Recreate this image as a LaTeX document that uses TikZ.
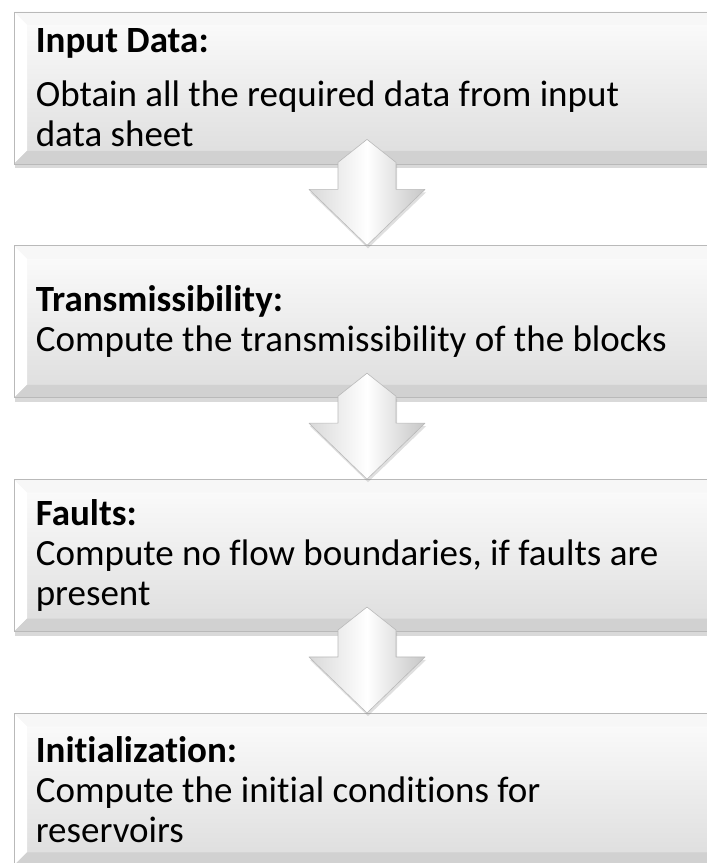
\documentclass[tikz,border=0pt]{standalone}
\usepackage{fontspec}
\setmainfont[Ligatures={NoCommon}]{Carlito}
\usetikzlibrary{positioning,shadows,calc}

\tikzset{
  stage/.style={rectangle, draw=gray!55, line width=0.8pt,
    minimum width=706pt, minimum height=152pt, inner sep=0pt,
    top color=gray!2, bottom color=gray!27,
    drop shadow={shadow xshift=1pt, shadow yshift=-4pt, opacity=0.3},
    path picture={
      \coordinate (pnw) at (path picture bounding box.north west);
      \coordinate (pne) at (path picture bounding box.north east);
      \coordinate (psw) at (path picture bounding box.south west);
      \coordinate (pse) at (path picture bounding box.south east);
      \fill[gray!6] (pnw) -- (pne) -- ($(pne)+(-13,-13)$) -- ($(pnw)+(13,-13)$) -- cycle;
      \fill[white] (pnw) -- ($(pnw)+(13,-13)$) -- ($(psw)+(13,13)$) -- (psw) -- cycle;
      \fill[gray!36] (psw) -- ($(psw)+(13,13)$) -- ($(pse)+(-13,13)$) -- (pse) -- cycle;
      \fill[gray!20] (pse) -- ($(pse)+(-13,13)$) -- ($(pne)+(-13,-13)$) -- (pne) -- cycle;
    }},
  stagetext/.style={anchor=west, align=left, inner sep=0pt,
    font=\fontsize{37}{40}\selectfont},
  flowarrow/.style={draw=gray!55, line width=0.6pt, line join=round,
    left color=gray!30, right color=gray!45, middle color=white,
    drop shadow={shadow xshift=1pt, shadow yshift=-3pt, opacity=0.25}}
}

\begin{document}
\begin{tikzpicture}[x=1pt, y=1pt]
  \useasboundingbox (0,0) rectangle (707,863);

  % the four stages
  \node[stage] (input) at (367,775) {};
  \node[stage, below=81pt of input] (trans) {};
  \node[stage, below=81pt of trans] (faults) {};
  \node[stage, below=81pt of faults] (init) {};

  % block arrows between the stages
  \draw[flowarrow] ($(input.south)+(0,25)$) -- ($(input.south)+(29,2)$)
    -- ($(input.south)+(29,-25)$) -- ($(input.south)+(58,-25)$) -- (trans.north)
    -- ($(input.south)+(-58,-25)$) -- ($(input.south)+(-29,-25)$)
    -- ($(input.south)+(-29,2)$) -- cycle;
  \draw[flowarrow] ($(trans.south)+(0,25)$) -- ($(trans.south)+(29,2)$)
    -- ($(trans.south)+(29,-25)$) -- ($(trans.south)+(58,-25)$) -- (faults.north)
    -- ($(trans.south)+(-58,-25)$) -- ($(trans.south)+(-29,-25)$)
    -- ($(trans.south)+(-29,2)$) -- cycle;
  \draw[flowarrow] ($(faults.south)+(0,25)$) -- ($(faults.south)+(29,2)$)
    -- ($(faults.south)+(29,-25)$) -- ($(faults.south)+(58,-25)$) -- (init.north)
    -- ($(faults.south)+(-58,-25)$) -- ($(faults.south)+(-29,-25)$)
    -- ($(faults.south)+(-29,2)$) -- cycle;

  % texts
  \node[stagetext] (inputtext) at ($(input.west)+(22,0)$)
    {\textbf{Input Data:}\\[14pt]Obtain all the required data from input\\data sheet};
  \node[stagetext] (transtext) at ($(trans.west)+(22,0)$)
    {\textbf{Transmissibility:}\\Compute the transmissibility of the blocks};
  \node[stagetext] (faultstext) at ($(faults.west)+(22,0)$)
    {\textbf{Faults:}\\Compute no flow boundaries, if faults are\\present};
  \node[stagetext] (inittext) at ($(init.west)+(22,0)$)
    {\textbf{Initialization:}\\Compute the initial conditions for\\reservoirs};
\end{tikzpicture}
\end{document}
